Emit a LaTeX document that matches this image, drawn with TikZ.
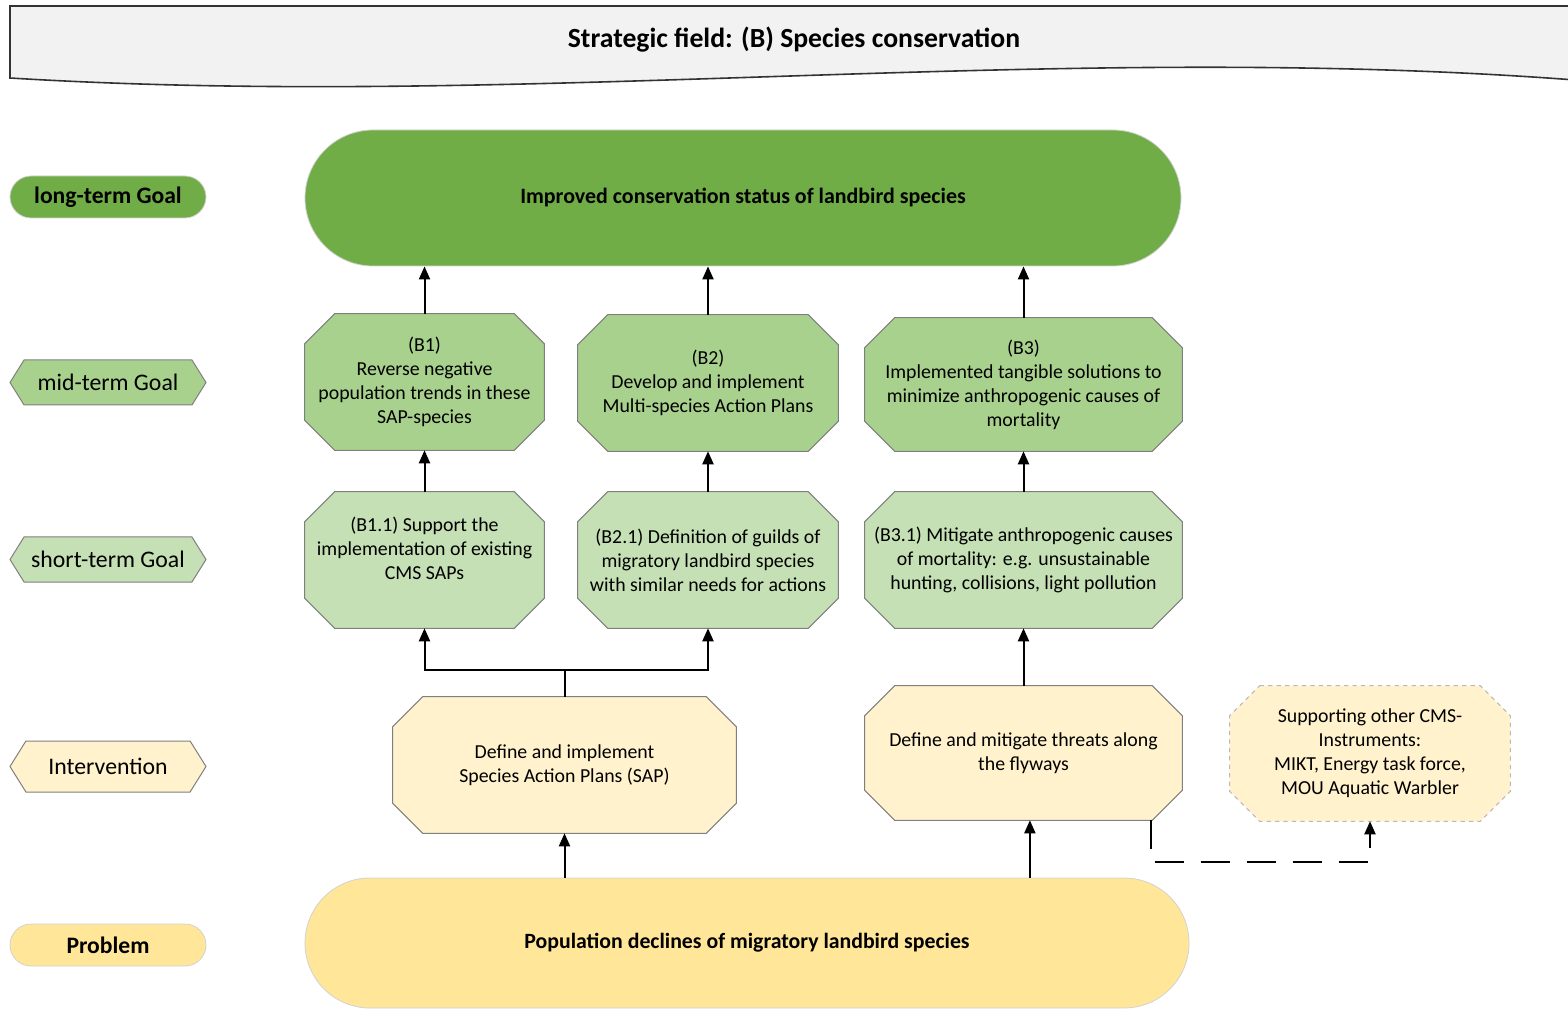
\documentclass[tikz,border=0pt]{standalone}
\usepackage{fontspec}
\setmainfont{Carlito}
\usetikzlibrary{arrows.meta,shapes.symbols,backgrounds}

\definecolor{goaldark}{HTML}{70AD47}
\definecolor{goalmid}{HTML}{A9D18E}
\definecolor{goallight}{HTML}{C5E0B4}
\definecolor{intercream}{HTML}{FFF2CC}
\definecolor{probyellow}{HTML}{FFE699}
\definecolor{headgray}{HTML}{F2F2F2}
\definecolor{edgegray}{HTML}{7F7F7F}

\tikzset{
  stadium/.style={rectangle, rounded corners=#1, draw=gray!35, line width=0.2mm, inner sep=0pt},
  octbox/.style={rectangle, inner sep=0pt, align=center, font=\fontsize{14.1}{17.1}\selectfont},
  octedge/.style={draw=edgegray, line width=0.25mm},
  levelbox/.style={signal, signal to=west and east, signal pointer angle=116, draw=edgegray,
    line width=0.25mm, minimum width=49mm, minimum height=11.25mm, inner sep=0pt, font=\fontsize{16.9}{19}\selectfont},
  arr/.style={-{Triangle[width=2.75mm,length=3.25mm]}, line width=0.5mm},
}

% octagon frame round a named node: #1 node, #2 options
\newcommand{\octframe}[2]{%
  \draw[octedge, #2] ([xshift=7.5mm]#1.north west) -- ([xshift=-7.5mm]#1.north east)
    -- ([yshift=-7.5mm]#1.north east) -- ([yshift=7.5mm]#1.south east)
    -- ([xshift=-7.5mm]#1.south east) -- ([xshift=7.5mm]#1.south west)
    -- ([yshift=7.5mm]#1.south west) -- ([yshift=-7.5mm]#1.north west) -- cycle;}

\begin{document}
\begin{tikzpicture}[x=0.25mm, y=-0.25mm]
    \useasboundingbox (0,0) rectangle (1568,1009);

    % header band
    \fill[headgray] (1575,6) -- (10,6) -- (10,78) .. controls (530,110) and (1050,40) .. (1575,80) -- cycle;
    \draw[gray!40!black, line width=0.4mm] (1575,6) -- (10,6) -- (10,78) .. controls (530,110) and (1050,40) .. (1575,80);
    \node (head) at (794,40) {\fontsize{19.7}{22}\selectfont\bfseries Strategic field: (B) Species conservation};

    % level labels
    \node[stadium=5.25mm, fill=goaldark, minimum width=49mm, minimum height=10.5mm, font=\fontsize{16.8}{19}\selectfont\bfseries] (lLong) at (108,197) {long-term Goal};
    \node[levelbox, fill=goalmid] (lMid) at (108,382.5) {mid-term Goal};
    \node[levelbox, fill=goallight] (lShort) at (108,559.5) {short-term Goal};
    \node[levelbox, fill=intercream, minimum height=12.75mm] (lInt) at (108,766.5) {Intervention};
    \node[stadium=5.25mm, fill=probyellow, minimum width=49mm, minimum height=10.5mm, font=\fontsize{16.8}{19}\selectfont\bfseries] (lProb) at (108,945) {Problem};

    % long-term goal
    \node[stadium=17mm, fill=goaldark, minimum width=219mm, minimum height=34mm, font=\fontsize{15.6}{18}\selectfont\bfseries] (goal) at (743,198) {Improved conservation status of landbird species};

    % mid-term goals
    \node[octbox, minimum width=59.75mm, minimum height=34mm] (b1) at (424.5,382) {(B1)\\Reverse negative\\population trends in these\\SAP-species};
    \node[octbox, minimum width=65mm, minimum height=34mm] (b2) at (708,383) {(B2)\\Develop and implement\\Multi-species Action Plans};
    \node[octbox, minimum width=79.25mm, minimum height=33.25mm] (b3) at (1023.5,384.5) {(B3)\\Implemented tangible solutions to\\minimize anthropogenic causes of\\mortality};

    % short-term goals
    \node[octbox, minimum width=59.75mm, minimum height=34mm] (b11) at (424.5,560) {(B1.1) Support the\\implementation of existing\\CMS SAPs\\~};
    \node[octbox, minimum width=65mm, minimum height=34mm] (b21) at (708,560) {(B2.1) Definition of guilds of\\migratory landbird species\\with similar needs for actions};
    \node[octbox, minimum width=79.25mm, minimum height=34mm] (b31) at (1023.5,560) {(B3.1) Mitigate anthropogenic causes\\of mortality: e.g. unsustainable\\hunting, collisions, light pollution};

    % interventions
    \node[octbox, minimum width=85.75mm, minimum height=34mm] (sap) at (564.5,765) {Define and implement\\Species Action Plans (SAP)};
    \node[octbox, minimum width=79.25mm, minimum height=33.5mm] (threat) at (1023.5,753) {Define and mitigate threats along\\the flyways};
    \node[octbox, minimum width=70mm, minimum height=33.75mm] (support) at (1370,753.5) {Supporting other CMS-\\Instruments:\\MIKT, Energy task force,\\MOU Aquatic Warbler};

    % problem
    \node[stadium=16.25mm, fill=probyellow, minimum width=221mm, minimum height=32.5mm, font=\fontsize{15.5}{18}\selectfont\bfseries] (problem) at (747,943) {Population declines of migratory landbird species};

    % octagon frames behind the texts
    \begin{scope}[on background layer]
      \octframe{b1}{fill=goalmid}
      \octframe{b2}{fill=goalmid}
      \octframe{b3}{fill=goalmid}
      \octframe{b11}{fill=goallight}
      \octframe{b21}{fill=goallight}
      \octframe{b31}{fill=goallight}
      \octframe{sap}{fill=intercream}
      \octframe{threat}{fill=intercream}
      \octframe{support}{fill=intercream, draw=gray!55, dashed}
    \end{scope}

    % arrows
    \draw[arr] (b1.north) -- (b1.north |- goal.south);
    \draw[arr] (b2.north) -- (b2.north |- goal.south);
    \draw[arr] (b3.north) -- (b3.north |- goal.south);
    \draw[arr] (b11) -- (b1);
    \draw[arr] (b21) -- (b2);
    \draw[arr] (b31) -- (b3);
    \coordinate (fork) at (564.5,670);
    \draw[line width=0.5mm] (sap.north) -- (fork);
    \draw[arr] (fork) -| (b11.south);
    \draw[arr] (fork) -| (b21.south);
    \draw[arr] (threat) -- (b31);
    \draw[arr] (sap.south |- problem.north) -- (sap.south);
    \draw[arr] ([xshift=1.6mm]threat.south |- problem.north) -- ([xshift=1.6mm]threat.south);
    \draw[arr, dash pattern=on 7.25mm off 4.25mm] ([xshift=31.75mm]threat.south) -- ++(0,42) -| (support.south);
\end{tikzpicture}
\end{document}
